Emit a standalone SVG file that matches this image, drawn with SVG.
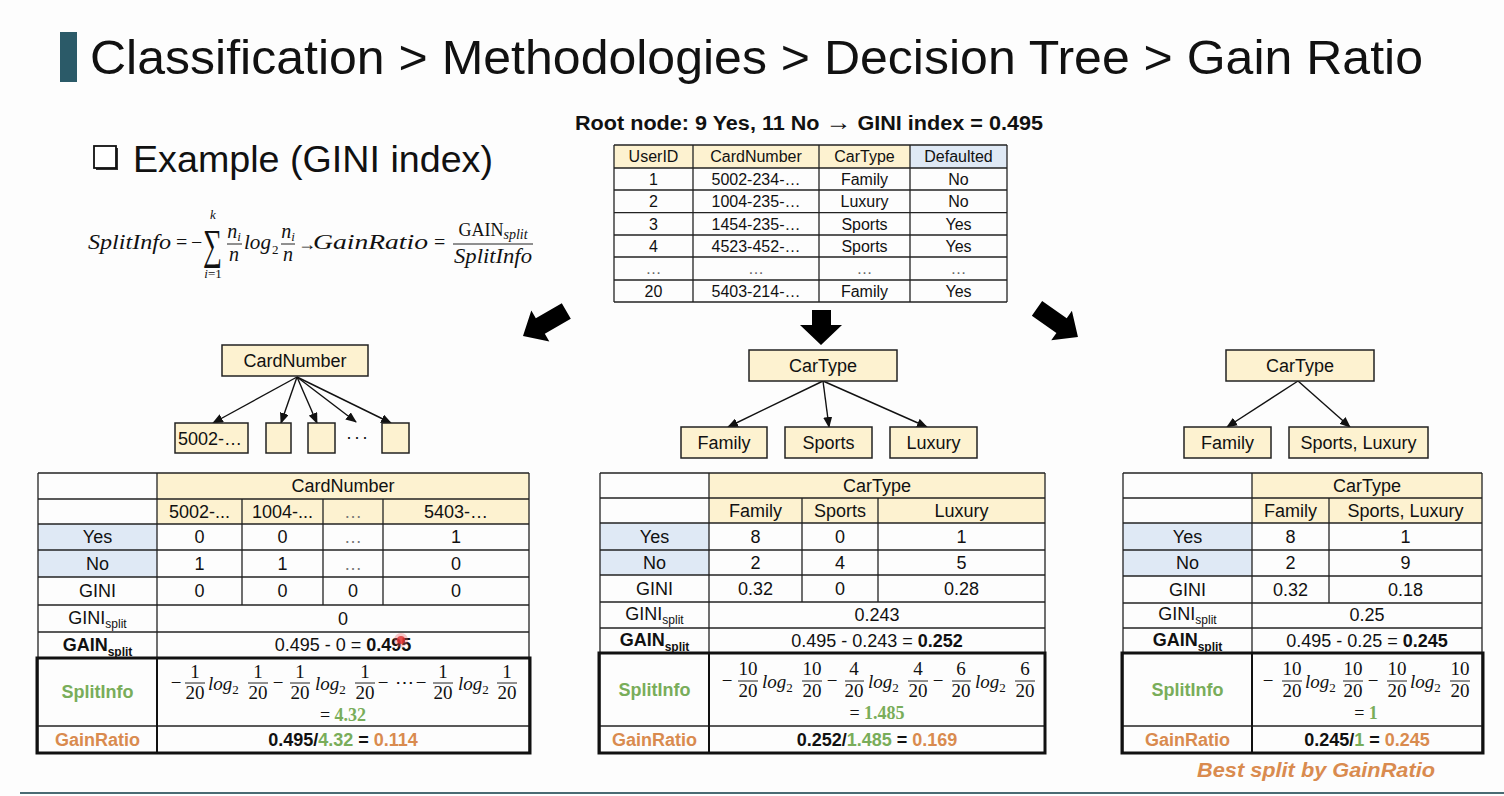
<svg xmlns="http://www.w3.org/2000/svg" width="1504" height="796" viewBox="0 0 1504 796">
<style>
.s{font-family:"Liberation Sans",Arial,sans-serif;fill:#111}
.c{text-anchor:middle}
.t16{font-size:16px}
.t18{font-size:18px}
.b{font-weight:bold}
.m{font-family:"Liberation Serif","Times New Roman",serif;fill:#111}
.i{font-style:italic}
.g{fill:#79ad5a}
.o{fill:#d98b4f}
.y{fill:#fdf2d0}
.bl{fill:#dfe9f5}
.grid line{stroke:#222;stroke-width:1.3}
.bx{fill:#fdf2d0;stroke:#222;stroke-width:1.5}
.thick{fill:none;stroke:#111;stroke-width:3}
.fb{stroke:#222;stroke-width:1}
.con line{stroke:#111;stroke-width:1.4}
.big{fill:#000}
</style>
<defs>
<marker id="ah" markerUnits="userSpaceOnUse" markerWidth="11" markerHeight="9" refX="10" refY="4.5" orient="auto"><path d="M0,0 L11,4.5 L0,9 Z" fill="#111"/></marker>
</defs>
<rect width="1504" height="796" fill="#fdfdfd"/>

<g id="title">
<rect x="60" y="32" width="17" height="50" fill="#2b5a68"/>
<text class="s" x="90" y="74" font-size="49" textLength="1333" lengthAdjust="spacingAndGlyphs">Classification &gt; Methodologies &gt; Decision Tree &gt; Gain Ratio</text>
</g>

<g id="example">
<rect x="96" y="148" width="22" height="22" fill="#333"/>
<rect x="94" y="146" width="22" height="22" fill="#fff" stroke="#111" stroke-width="1.8"/>
<text class="s" x="133" y="172" font-size="37" textLength="360" lengthAdjust="spacingAndGlyphs">Example (GINI index)</text>
</g>

<g id="formula">
<text class="m i" x="88" y="249" font-size="21" textLength="83" lengthAdjust="spacingAndGlyphs">SplitInfo</text>
<text class="m" x="176" y="249" font-size="20">=</text>
<text class="m" x="191" y="249" font-size="20">−</text>
<text class="m" transform="translate(203,259) scale(1,1.35)" font-size="32" textLength="19" lengthAdjust="spacingAndGlyphs">∑</text>
<text class="m i c" x="213" y="219" font-size="13">k</text>
<text class="m i c" x="213" y="278" font-size="13">i<tspan font-style="normal">=1</tspan></text>
<text class="m i c" x="234" y="238" font-size="20">n<tspan font-size="13" dy="3">i</tspan></text>
<line x1="227" y1="244" x2="242" y2="244" class="fb"/>
<text class="m i c" x="234" y="261" font-size="20">n</text>
<text class="m i" x="244" y="249" font-size="21" textLength="27" lengthAdjust="spacingAndGlyphs">log</text>
<text class="m" x="272" y="254" font-size="13">2</text>
<text class="m i c" x="288" y="238" font-size="20">n<tspan font-size="13" dy="3">i</tspan></text>
<line x1="281" y1="244" x2="295" y2="244" class="fb"/>
<text class="m i c" x="288" y="261" font-size="20">n</text>
<text class="m b" x="298" y="250" font-size="18">→</text>
<text class="m i" x="313" y="249" font-size="21" textLength="115" lengthAdjust="spacingAndGlyphs">GainRatio</text>
<text class="m" x="434" y="249" font-size="20">=</text>
<text class="m c" x="493" y="236" font-size="18">GAIN<tspan class="i" font-size="14" dy="3">split</tspan></text>
<line x1="453" y1="244" x2="533" y2="244" class="fb"/>
<text class="m i" x="454" y="263" font-size="21" textLength="78" lengthAdjust="spacingAndGlyphs">SplitInfo</text>
</g>

<g id="root-label">
<text class="s b" x="575" y="130" font-size="20" textLength="468" lengthAdjust="spacingAndGlyphs">Root node: 9 Yes, 11 No <tspan font-size="24">→</tspan> GINI index = 0.495</text>
</g>

<g id="root-table">
<rect x="614" y="145" width="296" height="23" class="y"/>
<rect x="910" y="145" width="97" height="23" class="bl"/>
<g class="grid">
<line x1="614" y1="145" x2="1007" y2="145"/><line x1="614" y1="168" x2="1007" y2="168"/>
<line x1="614" y1="190" x2="1007" y2="190"/><line x1="614" y1="212.7" x2="1007" y2="212.7"/>
<line x1="614" y1="235" x2="1007" y2="235"/><line x1="614" y1="257" x2="1007" y2="257"/>
<line x1="614" y1="280" x2="1007" y2="280"/><line x1="614" y1="302" x2="1007" y2="302"/>
<line x1="614" y1="145" x2="614" y2="302"/><line x1="693" y1="145" x2="693" y2="302"/>
<line x1="819" y1="145" x2="819" y2="302"/><line x1="910" y1="145" x2="910" y2="302"/>
<line x1="1007" y1="145" x2="1007" y2="302"/>
</g>
<g class="s c t16">
<text x="653.5" y="162">UserID</text><text x="756" y="162">CardNumber</text><text x="864.5" y="162">CarType</text><text x="958.5" y="162">Defaulted</text>
<text x="653.5" y="185">1</text><text x="756" y="185">5002-234-…</text><text x="864.5" y="185">Family</text><text x="958.5" y="185">No</text>
<text x="653.5" y="207">2</text><text x="756" y="207">1004-235-…</text><text x="864.5" y="207">Luxury</text><text x="958.5" y="207">No</text>
<text x="653.5" y="230">3</text><text x="756" y="230">1454-235-…</text><text x="864.5" y="230">Sports</text><text x="958.5" y="230">Yes</text>
<text x="653.5" y="252">4</text><text x="756" y="252">4523-452-…</text><text x="864.5" y="252">Sports</text><text x="958.5" y="252">Yes</text>
<text x="653.5" y="274" fill="#666">…</text><text x="756" y="274" fill="#666">…</text><text x="864.5" y="274" fill="#666">…</text><text x="958.5" y="274" fill="#666">…</text>
<text x="653.5" y="297">20</text><text x="756" y="297">5403-214-…</text><text x="864.5" y="297">Family</text><text x="958.5" y="297">Yes</text>
</g>
</g>

<g id="connectors" class="con">
<path class="big" d="M0,-9 L30,-9 L30,-18 L50,0 L30,18 L30,9 L0,9 Z" transform="translate(566.3,311) rotate(150)"/>
<path class="big" d="M812,310 L831,310 L831,325 L842,325 L821,345 L800,325 L812,325 Z"/>
<path class="big" d="M0,-9 L30,-9 L30,-18 L50,0 L30,18 L30,9 L0,9 Z" transform="translate(1037,308.3) rotate(35)"/>
<line x1="297" y1="377" x2="213" y2="423" marker-end="url(#ah)"/>
<line x1="297" y1="377" x2="281" y2="423" marker-end="url(#ah)"/>
<line x1="297" y1="377" x2="317" y2="423" marker-end="url(#ah)"/>
<line x1="297" y1="377" x2="356" y2="422" marker-end="url(#ah)"/>
<line x1="297" y1="377" x2="391" y2="423" marker-end="url(#ah)"/>
<line x1="823" y1="381" x2="728" y2="427" marker-end="url(#ah)"/>
<line x1="823" y1="381" x2="829" y2="427" marker-end="url(#ah)"/>
<line x1="823" y1="381" x2="927" y2="427" marker-end="url(#ah)"/>
<line x1="1298" y1="381" x2="1227" y2="427" marker-end="url(#ah)"/>
<line x1="1298" y1="381" x2="1350" y2="427" marker-end="url(#ah)"/>
</g>

<g id="tree-cardnumber">
<rect x="222" y="345" width="146" height="31" class="bx"/>
<text class="s c t18" x="295" y="367">CardNumber</text>
<rect x="175" y="423" width="73" height="30" class="bx"/>
<text class="s t18" x="178" y="445">5002-…</text>
<rect x="266" y="423" width="25" height="30" class="bx"/>
<rect x="308" y="423" width="27" height="30" class="bx"/>
<text class="s c t18" x="358" y="443" letter-spacing="2">···</text>
<rect x="382" y="423" width="27" height="30" class="bx"/>
</g>

<g id="tree-cartype3">
<rect x="749" y="350" width="148" height="31" class="bx"/>
<text class="s c t18" x="823" y="372">CarType</text>
<rect x="681" y="427" width="86" height="31" class="bx"/>
<text class="s c t18" x="724" y="449">Family</text>
<rect x="785" y="427" width="87" height="31" class="bx"/>
<text class="s c t18" x="828.5" y="449">Sports</text>
<rect x="890" y="427" width="87" height="31" class="bx"/>
<text class="s c t18" x="933.5" y="449">Luxury</text>
</g>

<g id="tree-cartype2">
<rect x="1226" y="350" width="148" height="31" class="bx"/>
<text class="s c t18" x="1300" y="372">CarType</text>
<rect x="1184" y="427" width="87" height="31" class="bx"/>
<text class="s c t18" x="1227.5" y="449">Family</text>
<rect x="1289" y="427" width="139" height="31" class="bx"/>
<text class="s c t18" x="1358.5" y="449">Sports, Luxury</text>
</g>

<g id="table-cardnumber">
<rect x="157" y="473" width="372" height="51" class="y"/>
<rect x="38" y="524" width="119" height="53" class="bl"/>
<g class="grid">
<line x1="38" y1="473" x2="529" y2="473"/><line x1="38" y1="499" x2="529" y2="499"/>
<line x1="38" y1="524" x2="529" y2="524"/><line x1="38" y1="550" x2="529" y2="550"/>
<line x1="38" y1="577" x2="529" y2="577"/><line x1="38" y1="605" x2="529" y2="605"/>
<line x1="38" y1="632" x2="529" y2="632"/><line x1="38" y1="726" x2="529" y2="726"/>
<line x1="38" y1="473" x2="38" y2="753"/><line x1="157" y1="473" x2="157" y2="753"/>
<line x1="529" y1="473" x2="529" y2="753"/>
<line x1="242" y1="499" x2="242" y2="605"/><line x1="323" y1="499" x2="323" y2="605"/>
<line x1="383" y1="499" x2="383" y2="605"/>
</g>
<rect x="37" y="658" width="493" height="95" class="thick"/>
<line x1="157" y1="658" x2="157" y2="753" stroke="#111" stroke-width="2"/>
<g class="s c t18">
<text x="343" y="492">CardNumber</text>
<text x="199.5" y="518">5002-...</text><text x="282.5" y="518">1004-...</text><text x="353" y="518" fill="#777">…</text><text x="456" y="518">5403-…</text>
<text x="97.5" y="543">Yes</text><text x="199.5" y="543">0</text><text x="282.5" y="543">0</text><text x="353" y="543" fill="#777">…</text><text x="456" y="543">1</text>
<text x="97.5" y="570">No</text><text x="199.5" y="570">1</text><text x="282.5" y="570">1</text><text x="353" y="570" fill="#777">…</text><text x="456" y="570">0</text>
<text x="97.5" y="597">GINI</text><text x="199.5" y="597">0</text><text x="282.5" y="597">0</text><text x="353" y="597">0</text><text x="456" y="597">0</text>
<text x="97.5" y="624">GINI<tspan font-size="12" dy="4">split</tspan></text><text x="343" y="625">0</text>
<text x="97.5" y="651" class="b">GAIN<tspan font-size="12" dy="5">split</tspan></text>
<text x="343" y="651">0.495 - 0 = <tspan class="b">0.495</tspan></text>
<text x="97.5" y="698" class="b g">SplitInfo</text>
<text x="97.5" y="746" class="b o">GainRatio</text>
<text x="343" y="746" class="b">0.495/<tspan class="g">4.32</tspan> = <tspan class="o">0.114</tspan></text>
</g>
<g class="m" font-size="19">
<g text-anchor="middle">
<text x="176" y="689">−</text><text x="278" y="689">−</text><text x="383" y="689">−</text><text x="404" y="689">⋯</text><text x="421" y="689">−</text>
<text x="195" y="678">1</text><text x="195" y="699">20</text>
<text x="258" y="678">1</text><text x="258" y="699">20</text>
<text x="300" y="678">1</text><text x="300" y="699">20</text>
<text x="365" y="678">1</text><text x="365" y="699">20</text>
<text x="443" y="678">1</text><text x="443" y="699">20</text>
<text x="507" y="678">1</text><text x="507" y="699">20</text>
<text x="343" y="721" font-size="18">= <tspan class="g b">4.32</tspan></text>
</g>
<text x="208" y="690" class="i">log<tspan font-size="13" font-style="normal" dy="4">2</tspan></text>
<text x="315" y="690" class="i">log<tspan font-size="13" font-style="normal" dy="4">2</tspan></text>
<text x="458" y="690" class="i">log<tspan font-size="13" font-style="normal" dy="4">2</tspan></text>
<g class="fb">
<line x1="185" y1="683" x2="205" y2="683"/><line x1="248" y1="683" x2="268" y2="683"/>
<line x1="290" y1="683" x2="310" y2="683"/><line x1="355" y1="683" x2="375" y2="683"/>
<line x1="433" y1="683" x2="453" y2="683"/><line x1="497" y1="683" x2="517" y2="683"/>
</g>
</g>
<circle cx="401" cy="640" r="7" fill="#f06060" opacity="0.35"/>
<circle cx="401" cy="640" r="4" fill="#e03030" opacity="0.8"/>
</g>

<g id="table-cartype3">
<rect x="709" y="473" width="336" height="50" class="y"/>
<rect x="600" y="523" width="109" height="52" class="bl"/>
<g class="grid">
<line x1="600" y1="473" x2="1045" y2="473"/><line x1="600" y1="498" x2="1045" y2="498"/>
<line x1="600" y1="523" x2="1045" y2="523"/><line x1="600" y1="550" x2="1045" y2="550"/>
<line x1="600" y1="575" x2="1045" y2="575"/><line x1="600" y1="602" x2="1045" y2="602"/>
<line x1="600" y1="628" x2="1045" y2="628"/><line x1="600" y1="726" x2="1045" y2="726"/>
<line x1="600" y1="473" x2="600" y2="753"/><line x1="709" y1="473" x2="709" y2="753"/>
<line x1="1045" y1="473" x2="1045" y2="753"/>
<line x1="802" y1="498" x2="802" y2="602"/><line x1="878" y1="498" x2="878" y2="602"/>
</g>
<rect x="599" y="653" width="446" height="100" class="thick"/>
<line x1="709" y1="653" x2="709" y2="753" stroke="#111" stroke-width="2"/>
<g class="s c t18">
<text x="877" y="492">CarType</text>
<text x="755.5" y="517">Family</text><text x="840" y="517">Sports</text><text x="961.5" y="517">Luxury</text>
<text x="654.5" y="543">Yes</text><text x="755.5" y="543">8</text><text x="840" y="543">0</text><text x="961.5" y="543">1</text>
<text x="654.5" y="569">No</text><text x="755.5" y="569">2</text><text x="840" y="569">4</text><text x="961.5" y="569">5</text>
<text x="654.5" y="595">GINI</text><text x="755.5" y="595">0.32</text><text x="840" y="595">0</text><text x="961.5" y="595">0.28</text>
<text x="654.5" y="620">GINI<tspan font-size="12" dy="4">split</tspan></text><text x="877" y="621">0.243</text>
<text x="654.5" y="646" class="b">GAIN<tspan font-size="12" dy="5">split</tspan></text>
<text x="877" y="647">0.495 - 0.243 = <tspan class="b">0.252</tspan></text>
<text x="654.5" y="696" class="b g">SplitInfo</text>
<text x="654.5" y="746" class="b o">GainRatio</text>
<text x="877" y="746" class="b">0.252/<tspan class="g">1.485</tspan> = <tspan class="o">0.169</tspan></text>
</g>
<g class="m" font-size="19">
<g text-anchor="middle">
<text x="727" y="687">−</text><text x="832" y="687">−</text><text x="938" y="687">−</text>
<text x="748" y="675">10</text><text x="748" y="697">20</text>
<text x="812" y="675">10</text><text x="812" y="697">20</text>
<text x="854" y="675">4</text><text x="854" y="697">20</text>
<text x="918" y="675">4</text><text x="918" y="697">20</text>
<text x="961" y="675">6</text><text x="961" y="697">20</text>
<text x="1025" y="675">6</text><text x="1025" y="697">20</text>
<text x="877" y="719" font-size="18">= <tspan class="g b">1.485</tspan></text>
</g>
<text x="762" y="688" class="i">log<tspan font-size="13" font-style="normal" dy="4">2</tspan></text>
<text x="868" y="688" class="i">log<tspan font-size="13" font-style="normal" dy="4">2</tspan></text>
<text x="975" y="688" class="i">log<tspan font-size="13" font-style="normal" dy="4">2</tspan></text>
<g class="fb">
<line x1="738" y1="681" x2="758" y2="681"/><line x1="802" y1="681" x2="822" y2="681"/>
<line x1="845" y1="681" x2="864" y2="681"/><line x1="908" y1="681" x2="928" y2="681"/>
<line x1="952" y1="681" x2="971" y2="681"/><line x1="1015" y1="681" x2="1035" y2="681"/>
</g>
</g>
</g>

<g id="table-cartype2">
<rect x="1252" y="473" width="230" height="50" class="y"/>
<rect x="1123" y="523" width="129" height="53" class="bl"/>
<g class="grid">
<line x1="1123" y1="473" x2="1482" y2="473"/><line x1="1123" y1="498" x2="1482" y2="498"/>
<line x1="1123" y1="523" x2="1482" y2="523"/><line x1="1123" y1="550" x2="1482" y2="550"/>
<line x1="1123" y1="576" x2="1482" y2="576"/><line x1="1123" y1="603" x2="1482" y2="603"/>
<line x1="1123" y1="628" x2="1482" y2="628"/><line x1="1123" y1="726" x2="1482" y2="726"/>
<line x1="1123" y1="473" x2="1123" y2="753"/><line x1="1252" y1="473" x2="1252" y2="753"/>
<line x1="1482" y1="473" x2="1482" y2="753"/>
<line x1="1329" y1="498" x2="1329" y2="603"/>
</g>
<rect x="1122" y="653" width="361" height="100" class="thick"/>
<line x1="1252" y1="653" x2="1252" y2="753" stroke="#111" stroke-width="2"/>
<g class="s c t18">
<text x="1367" y="492">CarType</text>
<text x="1290.5" y="517">Family</text><text x="1405.5" y="517">Sports, Luxury</text>
<text x="1187.5" y="543">Yes</text><text x="1290.5" y="543">8</text><text x="1405.5" y="543">1</text>
<text x="1187.5" y="569">No</text><text x="1290.5" y="569">2</text><text x="1405.5" y="569">9</text>
<text x="1187.5" y="596">GINI</text><text x="1290.5" y="596">0.32</text><text x="1405.5" y="596">0.18</text>
<text x="1187.5" y="620">GINI<tspan font-size="12" dy="4">split</tspan></text><text x="1367" y="621">0.25</text>
<text x="1187.5" y="646" class="b">GAIN<tspan font-size="12" dy="5">split</tspan></text>
<text x="1367" y="647">0.495 - 0.25 = <tspan class="b">0.245</tspan></text>
<text x="1187.5" y="696" class="b g">SplitInfo</text>
<text x="1187.5" y="746" class="b o">GainRatio</text>
<text x="1367" y="746" class="b">0.245/<tspan class="g">1</tspan> = <tspan class="o">0.245</tspan></text>
</g>
<g class="m" font-size="19">
<g text-anchor="middle">
<text x="1268" y="687">−</text><text x="1373" y="687">−</text>
<text x="1292" y="675">10</text><text x="1292" y="697">20</text>
<text x="1353" y="675">10</text><text x="1353" y="697">20</text>
<text x="1397" y="675">10</text><text x="1397" y="697">20</text>
<text x="1460" y="675">10</text><text x="1460" y="697">20</text>
<text x="1366" y="719" font-size="18">= <tspan class="g b">1</tspan></text>
</g>
<text x="1305" y="688" class="i">log<tspan font-size="13" font-style="normal" dy="4">2</tspan></text>
<text x="1410" y="688" class="i">log<tspan font-size="13" font-style="normal" dy="4">2</tspan></text>
<g class="fb">
<line x1="1282" y1="681" x2="1302" y2="681"/><line x1="1343" y1="681" x2="1363" y2="681"/>
<line x1="1387" y1="681" x2="1407" y2="681"/><line x1="1450" y1="681" x2="1470" y2="681"/>
</g>
</g>
<text class="s b i o" x="1197" y="777" font-size="20" textLength="238" lengthAdjust="spacingAndGlyphs">Best split by GainRatio</text>
</g>

<line x1="20" y1="793" x2="1504" y2="793" stroke="#4a6b73" stroke-width="2"/>
</svg>
